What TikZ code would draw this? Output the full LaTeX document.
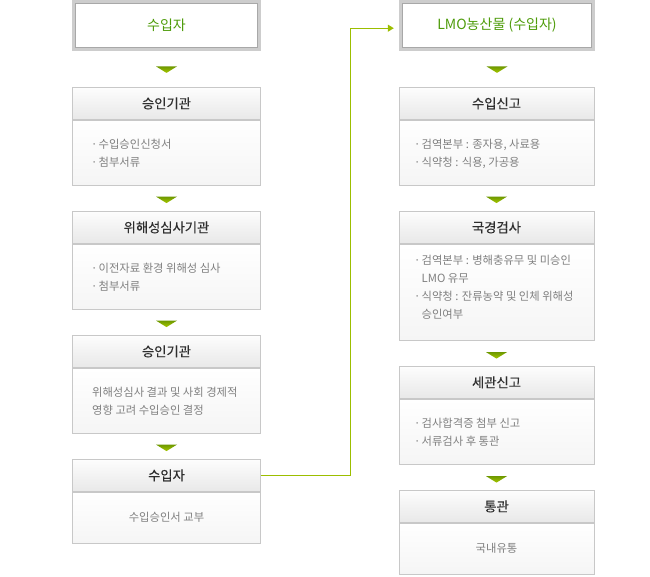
\documentclass[tikz,border=0pt]{standalone}
\usepackage{fontspec}
\setmainfont{Noto Sans CJK KR}
\newfontfamily\hdfont[FakeBold=0.2]{Noto Sans CJK KR}
\usetikzlibrary{arrows.meta,calc,shadows}
\definecolor{hdtext}{HTML}{2E2E2E}
\definecolor{bodytext}{HTML}{808080}
\definecolor{boxline}{HTML}{C8C8C8}
\definecolor{hdtop}{HTML}{FDFDFD}
\definecolor{hdbot}{HTML}{E8E8E8}
\definecolor{bdtop}{HTML}{FFFFFF}
\definecolor{bdbot}{HTML}{F5F5F5}
\definecolor{greentext}{HTML}{4E9C0A}
\definecolor{conngreen}{HTML}{9CBE00}
\definecolor{tritop}{HTML}{6E9800}
\definecolor{tribot}{HTML}{A6C800}
\definecolor{topband}{HTML}{CDCDCD}
\definecolor{topline}{HTML}{A8A8A8}
\newcommand\bul{\makebox[7.5pt][l]{·}}
\newcommand\bindent{\hspace*{7.5pt}}
\tikzset{
  hdbox/.style={draw=boxline, line width=0.8pt, top color=hdtop, bottom color=hdbot,
    minimum height=32pt, inner sep=0pt, anchor=north,
    font=\hdfont\fontsize{13.3}{15}\selectfont, text=hdtext,
    general shadow={fill=black!14, shadow xshift=0.8pt, shadow yshift=-1pt}},
  bdbox/.style={draw=boxline, line width=0.8pt, top color=bdtop, bottom color=bdbot,
    inner sep=0pt, anchor=north,
    general shadow={fill=black!14, shadow xshift=0.8pt, shadow yshift=-1.2pt}},
  bdtext/.style={font=\fontsize{11.3}{18}\selectfont, text=bodytext, align=left,
    inner sep=0pt, anchor=west},
  bdctext/.style={font=\fontsize{11.3}{18}\selectfont, text=bodytext, align=center,
    inner sep=0pt},
  topouter/.style={fill=topband, minimum height=51pt, inner sep=0pt, anchor=north},
  topinner/.style={fill=white, draw=topline, line width=0.8pt, minimum height=44pt,
    inner sep=0pt, anchor=north, font=\fontsize{14}{16}\selectfont, text=greentext},
  conn/.style={draw=conngreen, line width=1.2pt,
    -{Triangle[length=6pt,width=7pt]}, shorten >=5pt},
  downtri/.pic={\shade[top color=tritop, bottom color=tribot]
    (-10.5,0) -- (10.5,0) -- (0,6.5) -- cycle;}
}
\begin{document}
\begin{tikzpicture}[x=1pt,y=-1pt]
\useasboundingbox (0,0) rectangle (650,577);
% ---------- left column ----------
\node[topouter, minimum width=189pt] (L0) at (166.5,0) {};
\node[topinner, minimum width=182.5pt] (L0i) at (166.5,2.8) {수입자};

\node[hdbox, minimum width=188pt] (L1h) at (166.5,87) {승인기관};
\node[bdbox, minimum width=188pt, minimum height=65pt] (L1b) at (L1h.south) {};
\node[bdtext] (L1t) at (91,153.5) {\bul 수입승인신청서\\\bul 첨부서류};

\node[hdbox, minimum width=188pt] (L2h) at (166.5,211) {위해성심사기관};
\node[bdbox, minimum width=188pt, minimum height=65pt] (L2b) at (L2h.south) {};
\node[bdtext] (L2t) at (91,277.5) {\bul 이전자료 환경 위해성 심사\\\bul 첨부서류};

\node[hdbox, minimum width=188pt] (L3h) at (166.5,335) {승인기관};
\node[bdbox, minimum width=188pt, minimum height=65pt] (L3b) at (L3h.south) {};
\node[bdtext] (L3t) at (92,401.5) {위해성심사 결과 및 사회 경제적\\영향 고려 수입승인 결정};

\node[hdbox, minimum width=188pt] (L4h) at (166.5,459) {수입자};
\node[bdbox, minimum width=188pt, minimum height=51pt] (L4b) at (L4h.south) {};
\node[bdctext] (L4t) at (166.5,517) {수입승인서 교부};

% ---------- right column ----------
\node[topouter, minimum width=196pt] (R0) at (497,0) {};
\node[topinner, minimum width=189.5pt] (R0i) at (497,2.8) {LMO농산물 (수입자)};

\node[hdbox, minimum width=195pt] (R1h) at (496.5,87) {수입신고};
\node[bdbox, minimum width=195pt, minimum height=65pt] (R1b) at (R1h.south) {};
\node[bdtext] (R1t) at (414,153.5) {\bul 검역본부 : 종자용, 사료용\\\bul 식약청 : 식용, 가공용};

\node[hdbox, minimum width=195pt] (R2h) at (496.5,211) {국경검사};
\node[bdbox, minimum width=195pt, minimum height=96pt] (R2b) at (R2h.south) {};
\node[bdtext] (R2t) at (414,287) {\bul 검역본부 : 병해충유무 및 미승인\\\bindent LMO 유무\\\bul 식약청 : 잔류농약 및 인체 위해성\\\bindent 승인여부};

\node[hdbox, minimum width=195pt] (R3h) at (496.5,366) {세관신고};
\node[bdbox, minimum width=195pt, minimum height=65pt] (R3b) at (R3h.south) {};
\node[bdtext] (R3t) at (414,432) {\bul 검사합격증 첨부 신고\\\bul 서류검사 후 통관};

\node[hdbox, minimum width=195pt] (R4h) at (496.5,490) {통관};
\node[bdbox, minimum width=195pt, minimum height=51pt] (R4b) at (R4h.south) {};
\node[bdctext] (R4t) at (496.5,548) {국내유통};

% ---------- flow triangles ----------
\pic at ($(L0.south)+(0,15)$) {downtri};
\pic at ($(L1b.south)+(0,11)$) {downtri};
\pic at ($(L2b.south)+(0,11)$) {downtri};
\pic at ($(L3b.south)+(0,11)$) {downtri};
\pic at ($(R0.south)+(0,15)$) {downtri};
\pic at ($(R1b.south)+(0,11)$) {downtri};
\pic at ($(R2b.south)+(0,11.5)$) {downtri};
\pic at ($(R3b.south)+(0,11.5)$) {downtri};

% ---------- connector ----------
\coordinate (R0in) at ($(R0.west)+(0,2.5)$);
\draw[conn] (L4h.east) -- ($(L4h.east)+(89.5,0)$) |- (R0in);
\end{tikzpicture}
\end{document}
